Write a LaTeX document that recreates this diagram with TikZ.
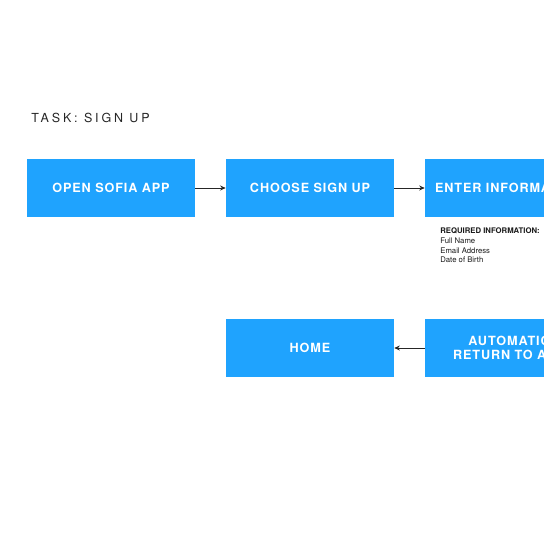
\documentclass[tikz,border=0pt]{standalone}
\usepackage{fontspec}
\setmainfont{TeX Gyre Heros}
\usepackage{xcolor}
\usetikzlibrary{positioning,arrows.meta}

\begin{document}
\begin{tikzpicture}[
      x=0.02cm, y=-0.02cm,
      boxc/.style={rectangle, fill=stepblue, draw=none, minimum width=3.36cm,
        minimum height=1.18cm, align=center, inner sep=0pt, text=white,
        font=\fontsize{7.2}{8.2}\selectfont\bfseries\addfontfeature{LetterSpace=7}},
      flow/.style={-{Stealth[length=1.1mm, width=1mm]}, line width=0.5pt, black!85},
    ]
    \definecolor{stepblue}{RGB}{31,163,254}

    \useasboundingbox (0,0) rectangle (544,544);
    \clip (0,0) rectangle (544,544);

    \node[anchor=west, inner sep=0pt, text=black!85,
      font=\fontsize{7.1}{8}\selectfont\addfontfeature{LetterSpace=23}] (task) at (31,118) {TASK: SIGN UP};

    \node[boxc] (open)   at (111,188) {OPEN SOFIA APP};
    \node[boxc] (choose) at (310,188) {CHOOSE SIGN UP};
    \node[boxc] (enter)  at (509,188) {ENTER INFORMATION};
    \node[boxc] (home)   at (310,348) {HOME};
    \node[boxc] (auto)   at (509,348) {AUTOMATIC\\RETURN TO APP};

    \node[anchor=north west, inner sep=0pt, align=left, text=black!90,
      font=\fontsize{4.4}{5.67}\selectfont] (req) at (440,227)
      {\textbf{REQUIRED INFORMATION:}\\Full Name\\Email Address\\Date of Birth};

    \draw[flow] (open) -- (choose);
    \draw[flow] (choose) -- (enter);
    \draw[flow] (auto) -- (home);
  \end{tikzpicture}
\end{document}
